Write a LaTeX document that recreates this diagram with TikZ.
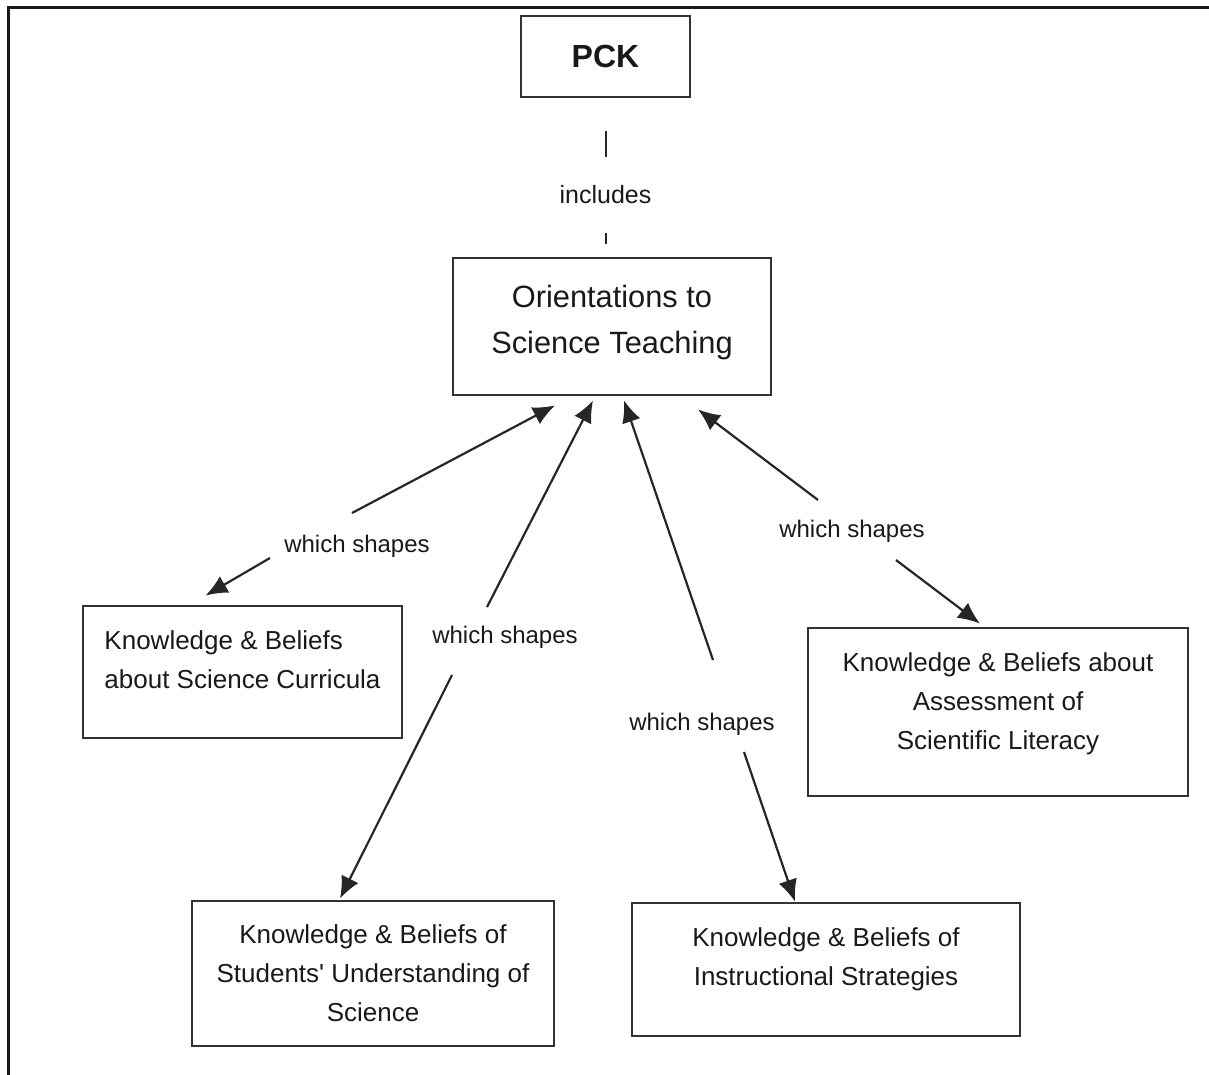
\documentclass[tikz,border=0pt]{standalone}
\usepackage{fontspec}
\setmainfont{Liberation Sans}
\usetikzlibrary{arrows.meta}
\newcommand{\lowpad}[1]{\rule[-#1]{0pt}{0pt}}

\begin{document}
\begin{tikzpicture}[x=0.5pt, y=-0.5pt,
  box/.style={draw=black!80, line width=1.4pt, text=black!90, align=center, inner sep=0pt,
    font=\fontsize{13}{19.5}\selectfont},
  link/.style={draw=black!85, line width=1.1pt, -{Latex[length=11pt,width=9.5pt]}},
  tag/.style={text=black!90, inner sep=0pt, font=\fontsize{12}{14}\selectfont}]
  \useasboundingbox (0,0) rectangle (1209,1075);
  \draw[black!90, line width=1.5pt] (8,1075) -- (8,8) -- (1209,8);

  \node[box, minimum width=84.5pt, minimum height=40.5pt,
    font=\fontsize{16}{19}\selectfont\bfseries] (pck) at (605.5,56.5) {PCK};
  \node[box, minimum width=159pt, minimum height=68.5pt,
    font=\fontsize{15.4}{23}\selectfont] (ori) at (612,326.5)
    {Orientations to\\Science Teaching\lowpad{7pt}};
  \node[box, align=left, minimum width=159.5pt, minimum height=66pt] (cur) at (242.5,672)
    {Knowledge \& Beliefs\\about Science Curricula\lowpad{12pt}};
  \node[box, minimum width=181pt, minimum height=72.5pt] (stu) at (373,973.5)
    {Knowledge \& Beliefs of\\Students\textquotesingle\ Understanding of\\Science};
  \node[box, minimum width=194pt, minimum height=66.5pt] (ins) at (826,969.5)
    {Knowledge \& Beliefs of\\Instructional Strategies\lowpad{13pt}};
  \node[box, minimum width=190pt, minimum height=84pt] (ass) at (998,712)
    {Knowledge \& Beliefs about\\Assessment of\\Scientific Literacy\lowpad{11pt}};

  \node[tag, font=\fontsize{12.5}{14}\selectfont, minimum height=37.5pt] (inc) at (605.5,195) {includes};
  \draw[black!85, line width=1pt, shorten <=16.5pt] (pck) -- (inc);
  \draw[black!85, line width=1pt, shorten >=6.5pt] (inc) -- (inc |- ori.north);

  \node[tag] (l1) at (357,546) {which shapes};
  \node[tag] (l2) at (505,637) {which shapes};
  \node[tag] (l3) at (702,724) {which shapes};
  \node[tag] (l4) at (852,531) {which shapes};

  \coordinate (g1a) at (352,513);
  \coordinate (g1b) at (270,558);
  \coordinate (g2a) at (487,607);
  \coordinate (g2b) at (452,675);
  \coordinate (g3a) at (713,660);
  \coordinate (g3b) at (744,752);
  \coordinate (g4a) at (818,500);
  \coordinate (g4b) at (896,560);

  \draw[link] (g1a) -- ([shift={(-57,9)}]ori.south);
  \draw[link] (g1b) -- ([shift={(-37,-9)}]cur.north);
  \draw[link] (g2a) -- ([shift={(-19,4)}]ori.south);
  \draw[link] (g2b) -- ([shift={(-33,-1)}]stu.north);
  \draw[link] (g3a) -- ([shift={(12,4)}]ori.south);
  \draw[link] (g3b) -- ([shift={(-31,0)}]ins.north);
  \draw[link] (g4a) -- ([shift={(86,13)}]ori.south);
  \draw[link] (g4b) -- ([shift={(-18,-3)}]ass.north);
\end{tikzpicture}
\end{document}
